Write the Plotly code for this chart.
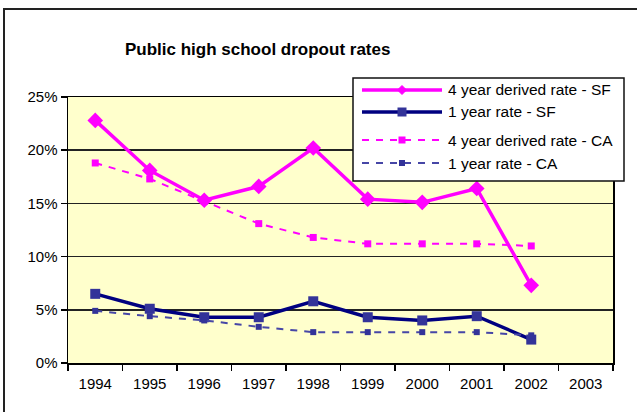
import plotly.graph_objects as go

years = ["1994", "1995", "1996", "1997", "1998", "1999", "2000", "2001", "2002", "2003"]
data_years = years[:9]
sf_4yr = [22.8, 18.1, 15.3, 16.6, 20.2, 15.4, 15.1, 16.4, 7.3]
sf_1yr = [6.5, 5.1, 4.3, 4.3, 5.8, 4.3, 4.0, 4.4, 2.2]
ca_4yr = [18.8, 17.3, 15.2, 13.1, 11.8, 11.2, 11.2, 11.2, 11.0]
ca_1yr = [4.9, 4.4, 4.0, 3.4, 2.9, 2.9, 2.9, 2.9, 2.6]
names = ["4 year derived rate - SF", "1 year rate - SF",
         "4 year derived rate - CA", "1 year rate - CA"]
y_ticks = [0, 5, 10, 15, 20, 25]
y_tick_labels = ["0%", "5%", "10%", "15%", "20%", "25%"]

W, H = 637, 412
L, R, T, B = 68, 24, 97, 49
PW, PH = W - L - R, H - T - B


def px(x):
    return (x - L) / PW


def py(y):
    return (H - B - y) / PH


MAG = "#FF00FF"
NAVY = "#000080"
NAVY_M = "#333399"
NAVY_D = "#4646A6"

styles = [
    dict(line=dict(color=MAG, width=3.5), marker=dict(symbol="diamond", size=12, color=MAG)),
    dict(line=dict(color=NAVY, width=3.5), marker=dict(symbol="square", size=10, color=NAVY_M)),
    dict(line=dict(color=MAG, width=2, dash="7px,7px"), marker=dict(symbol="square", size=7, color=MAG)),
    dict(line=dict(color=NAVY_D, width=2, dash="7px,7px"), marker=dict(symbol="square", size=6, color=NAVY_M)),
]
series = [sf_4yr, sf_1yr, ca_4yr, ca_1yr]

fig = go.Figure()
for name, vals, st in zip(names, series, styles):
    fig.add_trace(go.Scatter(x=data_years, y=vals, mode="lines+markers", name=name,
                             line=st["line"], marker=st["marker"], showlegend=False,
                             cliponaxis=False, hoverinfo="skip"))

shapes = []
# outer chart border
shapes.append(dict(type="rect", xref="paper", yref="paper",
                   x0=px(4), x1=px(660), y0=py(9), y1=py(440),
                   line=dict(color="#222222", width=2), fillcolor="rgba(0,0,0,0)", layer="above"))
# legend box
shapes.append(dict(type="rect", xref="paper", yref="paper",
                   x0=px(353), x1=px(624), y0=py(78), y1=py(181),
                   line=dict(color="#111111", width=1.5), fillcolor="white", layer="above"))
rows = [90, 112, 140, 163]
annotations = []
for i, (name, st) in enumerate(zip(names, styles)):
    yy = rows[i]
    ln = st["line"]
    shapes.append(dict(type="line", xref="paper", yref="paper",
                       x0=px(362), x1=px(442), y0=py(yy), y1=py(yy),
                       line=dict(color=ln["color"], width=ln["width"], dash=ln.get("dash", "solid")),
                       layer="above"))
    mk = st["marker"]
    s = mk["size"] / 2.0
    if mk["symbol"] == "diamond":
        s = 4.5
        path = "M {a},{b} L {c},{d} L {a},{e} L {f},{d} Z".format(
            a=px(402), b=py(yy - s), c=px(402 + s), d=py(yy), e=py(yy + s), f=px(402 - s))
        shapes.append(dict(type="path", xref="paper", yref="paper", path=path,
                           fillcolor=mk["color"], line=dict(color=mk["color"], width=1), layer="above"))
    else:
        s = min(s, 4.5)
        shapes.append(dict(type="rect", xref="paper", yref="paper",
                           x0=px(402 - s), x1=px(402 + s), y0=py(yy - s), y1=py(yy + s),
                           fillcolor=mk["color"], line=dict(color=mk["color"], width=0), layer="above"))
    annotations.append(dict(xref="paper", yref="paper", x=px(446), y=py(yy),
                            xanchor="left", yanchor="middle", text=name, showarrow=False,
                            font=dict(family="Arial", size=15.5, color="black")))

annotations.append(dict(xref="paper", yref="paper", x=px(257), y=py(50),
                        xanchor="center", yanchor="middle",
                        text="<b>Public high school dropout rates</b>", showarrow=False,
                        font=dict(family="Arial", size=17, color="black")))

fig.update_layout(
    width=W, height=H, autosize=False,
    margin=dict(l=L, r=R, t=T, b=B, pad=0),
    paper_bgcolor="white", plot_bgcolor="#FFFFCC",
    font=dict(family="Arial", size=15, color="black"),
    shapes=shapes, annotations=annotations, showlegend=False,
    hovermode=False,
    xaxis=dict(type="category", categoryorder="array", categoryarray=years,
               range=[-0.5, 9.5], tickson="boundaries", ticks="outside", ticklen=6,
               tickwidth=1.5, tickcolor="black", showgrid=False, showline=True,
               linecolor="black", linewidth=1.5, mirror=True, zeroline=False,
               ticklabelstandoff=6,
               tickfont=dict(family="Arial", size=15, color="black")),
    yaxis=dict(range=[0, 25], tickmode="array", tickvals=y_ticks, ticktext=y_tick_labels,
               ticks="outside",
               ticklen=6, tickwidth=1.5, tickcolor="black", showgrid=True,
               gridcolor="#222222", gridwidth=1.5, showline=True, linecolor="black",
               linewidth=1.5, mirror=True, zeroline=False,
               tickfont=dict(family="Arial", size=15, color="black")),
)

fig.write_html("out.html", config={"displayModeBar": False, "staticPlot": True},
               post_script="document.body.style.margin='0';document.body.style.overflow='hidden';")
